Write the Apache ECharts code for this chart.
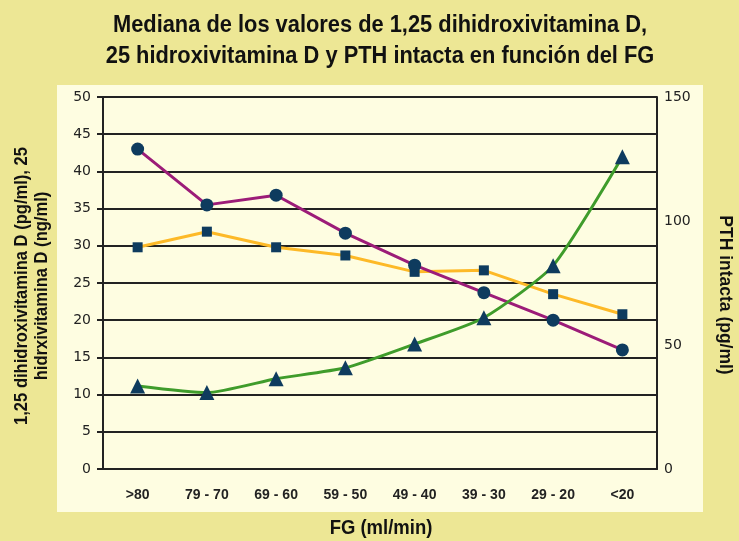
<!DOCTYPE html>
<html>
<head>
<meta charset="utf-8">
<script src="https://cdn.jsdelivr.net/npm/echarts@6/dist/echarts.min.js"></script>
<style>
  html, body { margin: 0; padding: 0; background: #EDE795; }
  #chart { width: 739px; height: 541px; }
</style>
</head>
<body>
<div id="chart"></div>
<script>
var categories = ['>80', '79 - 70', '69 - 60', '59 - 50', '49 - 40', '39 - 30', '29 - 20', '<20'];
// 1,25 dihidroxivitamina D (pg/ml)
var dihidroxi = [43, 35.5, 36.8, 31.7, 27.4, 23.7, 20.0, 16.0];
// 25 hidroxivitamina D (ng/ml)
var hidroxi = [29.8, 31.9, 29.8, 28.7, 26.5, 26.7, 23.5, 20.8];
// PTH intacta (pg/ml), eje derecho
var pth = [33.5, 30.8, 36.4, 40.8, 50.4, 61.0, 82.0, 125.9];

var narrow = '"Liberation Sans", Arial, sans-serif';
var tickFont = '"DejaVu Sans", Verdana, sans-serif';
var markerColor = '#0E3B5E';

var myChart = echarts.init(document.getElementById('chart'));

var option = {
	backgroundColor: '#EDE795',
	animation: false,
	graphic: [
		{
			type: 'rect',
			z: -10,
			shape: { x: 57, y: 85, width: 646, height: 427 },
			style: { fill: '#FEFDE1' }
		},
		{
			// titulo (fuente estrecha simulada con scaleX)
			type: 'text',
			x: 380, y: 41,
			scaleX: 0.91,
			style: {
				text: 'Mediana de los valores de 1,25 dihidroxivitamina D,\n25 hidroxivitamina D y PTH intacta en función del FG',
				align: 'center', verticalAlign: 'middle',
				fontFamily: narrow, fontWeight: 'bold', fontSize: 24, lineHeight: 31,
				fill: '#111'
			}
		},
		{
			type: 'text',
			x: 32, y: 286,
			rotation: Math.PI / 2,
			scaleX: 0.92,
			style: {
				text: '1,25 dihidroxivitamina D (pg/ml), 25\nhidrxivitamina D (ng/ml)',
				align: 'center', verticalAlign: 'middle',
				fontFamily: narrow, fontWeight: 'bold', fontSize: 18, lineHeight: 20,
				fill: '#111'
			}
		},
		{
			type: 'text',
			x: 725, y: 295,
			rotation: -Math.PI / 2,
			scaleX: 0.92,
			style: {
				text: 'PTH intacta (pg/ml)',
				align: 'center', verticalAlign: 'middle',
				fontFamily: narrow, fontWeight: 'bold', fontSize: 19,
				fill: '#111'
			}
		},
		{
			type: 'text',
			x: 381, y: 528,
			scaleX: 0.88,
			style: {
				text: 'FG (ml/min)',
				align: 'center', verticalAlign: 'middle',
				fontFamily: narrow, fontWeight: 'bold', fontSize: 21,
				fill: '#111'
			}
		}
	],
	grid: {
		left: 103,
		right: 82,
		top: 97,
		bottom: 72,
		containLabel: false
	},
	xAxis: [{
		type: 'category',
		boundaryGap: true,
		data: categories,
		axisLine: { show: true, lineStyle: { color: '#222', width: 2 } },
		axisTick: { show: false },
		axisLabel: {
			interval: 0,
			margin: 19,
			fontFamily: narrow,
			fontWeight: 'bold',
			fontSize: 14,
			color: '#222'
		}
	}],
	yAxis: [{
		type: 'value',
		min: 0,
		max: 50,
		interval: 5,
		axisLine: { show: true, lineStyle: { color: '#222', width: 2 } },
		axisTick: { show: true, length: 6, lineStyle: { color: '#222', width: 2 } },
		splitLine: { show: true, lineStyle: { color: '#222', width: 2 } },
		axisLabel: {
			margin: 12,
			fontFamily: tickFont,
			fontSize: 14,
			color: '#222'
		}
	}, {
		type: 'value',
		position: 'right',
		min: 0,
		max: 150,
		interval: 50,
		axisLine: { show: true, lineStyle: { color: '#222', width: 2 } },
		axisTick: { show: false },
		splitLine: { show: false },
		axisLabel: {
			margin: 7,
			fontFamily: tickFont,
			fontSize: 14,
			color: '#222'
		}
	}],
	series: [{
		name: '25 hidroxivitamina D',
		type: 'line',
		data: hidroxi,
		symbol: 'rect',
		symbolSize: 10,
		lineStyle: { color: '#FDB927', width: 3 },
		itemStyle: { color: markerColor }
	}, {
		name: '1,25 dihidroxivitamina D',
		type: 'line',
		data: dihidroxi,
		symbol: 'circle',
		symbolSize: 13,
		lineStyle: { color: '#9C1C78', width: 3 },
		itemStyle: { color: markerColor }
	}, {
		name: 'PTH intacta',
		type: 'line',
		yAxisIndex: 1,
		data: pth,
		smooth: 0.2,
		symbol: 'triangle',
		symbolSize: 15,
		lineStyle: { color: '#3F9C2B', width: 3 },
		itemStyle: { color: markerColor }
	}]
};

myChart.setOption(option, true);
</script>
</body>
</html>
